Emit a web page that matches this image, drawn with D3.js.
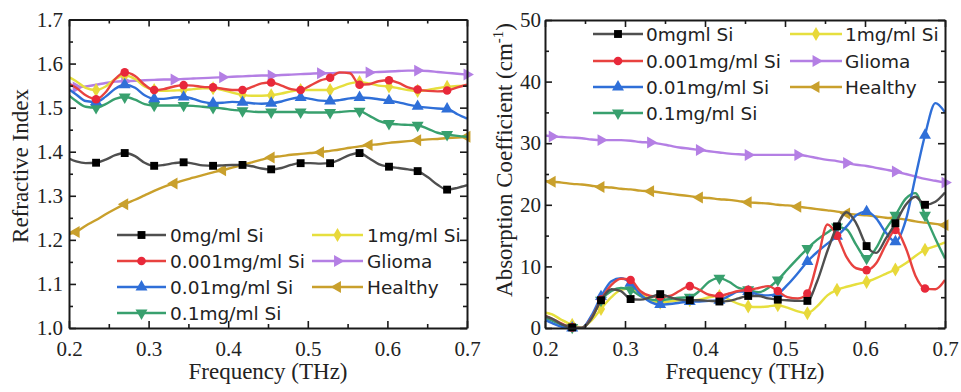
<!DOCTYPE html>
<html>
<head>
<meta charset="utf-8">
<script src="https://cdn.jsdelivr.net/npm/d3@7"></script>
<style>
body { margin:0; background:#fff; }
svg { display:block; }
</style>
</head>
<body>
<div id="chart"></div>
<script>
// frequency grid (THz), shared by every curve
var freq = [0.197,0.209,0.221,0.234,0.246,0.258,0.270,0.283,0.295,0.307,0.319,0.332,0.344,0.356,
            0.368,0.381,0.393,0.405,0.418,0.430,0.442,0.454,0.467,0.479,0.491,0.503,0.516,0.528,
            0.540,0.553,0.565,0.577,0.589,0.602,0.614,0.626,0.638,0.651,0.663,0.675,0.688,0.700];

var namesLeft  = ["0mg/ml Si","0.001mg/ml Si","0.01mg/ml Si","0.1mg/ml Si","1mg/ml Si","Glioma","Healthy"];
var namesRight = ["0mgml Si","0.001mg/ml Si","0.01mg/ml Si","0.1mg/ml Si","1mg/ml Si","Glioma","Healthy"];

// refractive index
var riBlack  = [1.387,1.378,1.374,1.375,1.382,1.392,1.397,1.390,1.375,1.368,1.370,1.374,1.376,1.373,1.369,1.368,1.369,1.370,1.370,1.367,1.362,1.360,1.363,1.370,1.374,1.374,1.373,1.374,1.382,1.393,1.397,1.385,1.372,1.366,1.363,1.360,1.356,1.342,1.325,1.314,1.318,1.324];
var riRed    = [1.556,1.545,1.528,1.519,1.535,1.565,1.580,1.572,1.552,1.540,1.542,1.548,1.551,1.550,1.547,1.546,1.543,1.540,1.540,1.547,1.555,1.557,1.550,1.542,1.540,1.550,1.562,1.568,1.580,1.578,1.552,1.553,1.560,1.562,1.556,1.546,1.541,1.538,1.537,1.539,1.546,1.552];
var riBlue   = [1.545,1.530,1.515,1.513,1.525,1.543,1.552,1.545,1.528,1.520,1.520,1.523,1.524,1.520,1.513,1.510,1.511,1.513,1.512,1.510,1.509,1.510,1.514,1.520,1.523,1.520,1.516,1.515,1.517,1.521,1.523,1.522,1.519,1.516,1.512,1.507,1.503,1.500,1.498,1.497,1.485,1.475];
var riGreen  = [1.532,1.515,1.502,1.500,1.508,1.520,1.524,1.518,1.508,1.505,1.505,1.505,1.505,1.504,1.502,1.500,1.498,1.495,1.493,1.491,1.490,1.490,1.490,1.490,1.490,1.489,1.489,1.489,1.490,1.492,1.492,1.482,1.470,1.464,1.462,1.461,1.460,1.452,1.443,1.439,1.436,1.434];
var riYellow = [1.572,1.560,1.545,1.540,1.548,1.565,1.573,1.565,1.548,1.540,1.538,1.539,1.540,1.542,1.544,1.544,1.540,1.534,1.529,1.527,1.527,1.528,1.532,1.537,1.540,1.540,1.540,1.540,1.547,1.555,1.558,1.555,1.550,1.548,1.544,1.540,1.538,1.540,1.544,1.547,1.549,1.550];
var riGlioma = [1.562,1.546,1.548,1.552,1.556,1.559,1.560,1.561,1.562,1.563,1.564,1.564,1.565,1.566,1.567,1.568,1.569,1.570,1.571,1.572,1.573,1.573,1.574,1.575,1.576,1.577,1.578,1.578,1.579,1.580,1.580,1.580,1.581,1.582,1.583,1.584,1.584,1.583,1.581,1.579,1.577,1.575];
var riHealthy= [1.212,1.218,1.232,1.245,1.258,1.270,1.281,1.291,1.301,1.311,1.320,1.328,1.335,1.341,1.347,1.353,1.358,1.364,1.370,1.376,1.382,1.387,1.390,1.393,1.395,1.397,1.399,1.402,1.405,1.409,1.412,1.415,1.417,1.420,1.422,1.424,1.426,1.428,1.429,1.431,1.432,1.434];

// absorption coefficient (cm-1)
var acBlack  = [2.0,1.5,0.6,0.1,0.0,1.5,4.5,6.3,6.0,4.7,4.6,5.0,5.5,5.0,4.6,4.5,4.5,4.4,4.3,4.4,4.8,5.2,5.2,4.8,4.6,4.5,4.4,4.4,7.5,12.5,16.5,18.8,17.0,13.3,12.2,14.5,17.0,20.0,21.3,20.0,20.5,22.0];
var acRed    = [2.2,1.5,0.7,0.1,0.0,1.6,4.6,7.0,8.0,7.8,6.0,5.2,5.1,5.2,6.0,6.8,6.2,5.4,5.2,5.6,6.0,6.2,6.5,6.8,6.0,5.0,4.8,5.6,10.5,16.8,15.0,11.5,9.7,9.4,10.5,13.5,15.9,13.0,8.5,6.4,6.3,7.8];
var acBlue   = [1.5,0.8,0.2,0.0,0.0,2.0,5.1,7.6,8.1,7.3,5.5,4.2,3.8,3.9,4.1,4.3,4.3,4.4,4.5,5.2,5.9,5.9,5.4,5.3,5.6,7.0,8.9,10.8,12.3,13.7,14.9,16.5,18.3,18.9,17.8,15.5,14.0,17.5,24.5,31.3,36.5,35.0];
var acGreen  = [1.8,1.2,0.5,0.1,0.0,1.8,4.5,6.0,6.5,6.2,5.2,4.6,4.5,4.7,4.9,5.0,6.0,7.5,8.1,7.5,6.5,6.2,5.8,6.5,7.8,9.5,11.3,12.9,14.3,15.5,16.4,16.0,13.5,11.3,13.0,16.0,18.3,21.0,21.9,18.3,14.5,11.3];
var acYellow = [2.6,2.2,1.3,0.5,0.1,1.2,3.1,5.0,6.2,6.4,5.6,4.6,4.1,4.3,4.5,4.5,4.6,5.0,5.2,4.6,3.9,3.5,3.4,3.5,3.7,3.3,2.7,2.4,3.5,5.3,6.2,6.7,7.1,7.5,8.1,8.8,9.5,10.5,11.7,12.7,13.3,13.9];
var acGlioma = [31.3,31.1,31.0,30.9,30.8,30.6,30.5,30.5,30.5,30.4,30.2,30.1,29.9,29.6,29.3,29.1,28.9,28.7,28.5,28.3,28.2,28.1,28.1,28.1,28.1,28.1,28.1,27.9,27.6,27.3,27.1,26.8,26.5,26.3,26.0,25.7,25.4,25.0,24.6,24.2,23.9,23.6];
var acHealthy= [23.9,23.75,23.6,23.4,23.3,23.1,22.9,22.8,22.6,22.5,22.3,22.2,22.0,21.8,21.6,21.4,21.2,21.1,20.9,20.8,20.6,20.4,20.3,20.2,20.0,19.9,19.7,19.5,19.3,19.1,18.9,18.6,18.4,18.3,18.1,17.9,17.8,17.6,17.3,17.1,16.9,16.7];

var xTicks = [0.2,0.3,0.4,0.5,0.6,0.7];
var xMinor = [0.25,0.35,0.45,0.55,0.65];
var riTicks = [1.0,1.1,1.2,1.3,1.4,1.5,1.6,1.7];
var riMinor = [1.05,1.15,1.25,1.35,1.45,1.55,1.65];
var acTicks = [0,10,20,30,40,50];
var acMinor = [5,15,25,35,45];

// line colour, marker fill, symbol, rotation, marker spacing on the grid
var styles = [
    {line:"#4f4f4f", mark:"#000000", sym:d3.symbolSquare,   rot:0,   size:62, step:3, start:0},
    {line:"#e8423f", mark:"#e8283a", sym:d3.symbolCircle,   rot:0,   size:58, step:3, start:0},
    {line:"#2f6fd8", mark:"#2f6fd8", sym:d3.symbolTriangle, rot:0,   size:62, step:3, start:0},
    {line:"#38a06e", mark:"#38a06e", sym:d3.symbolTriangle, rot:180, size:62, step:3, start:0},
    {line:"#e6df3e", mark:"#e8d83a", sym:d3.symbolDiamond,  rot:0,   size:58, step:3, start:0},
    {line:"#b47fe4", mark:"#b47fe4", sym:d3.symbolTriangle, rot:90,  size:62, step:5, start:1},
    {line:"#c9a02c", mark:"#c9a02c", sym:d3.symbolTriangle, rot:-90, size:62, step:5, start:1}
];
var drawOrder = [6,5,4,3,2,1,0];

var svg = d3.select("#chart").append("svg")
    .attr("width",961)
    .attr("height",392);

var serif = "'Liberation Serif','Times New Roman',serif";
var sans = "'DejaVu Sans',sans-serif";

function drawPanel(p) {
    var x = d3.scaleLinear().domain([0.2,0.7]).range([p.left,p.right]);
    var y = d3.scaleLinear().domain(p.yDomain).range([p.bottom,p.top]);
    var g = svg.append("g");

    svg.append("clipPath").attr("id","clip"+p.id)
        .append("rect")
        .attr("x",p.left).attr("y",p.top)
        .attr("width",p.right-p.left).attr("height",p.bottom-p.top);

    var line = d3.line()
        .x(function(d,i){return x(freq[i]);})
        .y(function(d){return y(d);})
        .curve(d3.curveMonotoneX);

    drawOrder.forEach(function(k){
        var s = styles[k];
        g.append("path")
            .datum(p.series[k])
            .attr("clip-path","url(#clip"+p.id+")")
            .attr("d",line)
            .attr("fill","none")
            .attr("stroke",s.line)
            .attr("stroke-width",2.4)
            .attr("stroke-linejoin","round");

        var pts = p.series[k].map(function(v,i){return {f:freq[i],v:v,i:i};})
            .filter(function(d){return d.i%s.step===s.start && d.f>=0.2 && d.f<=0.7;});
        g.selectAll(null).data(pts).enter().append("path")
            .attr("d",d3.symbol().type(s.sym).size(s.size))
            .attr("transform",function(d){return "translate("+x(d.f)+","+y(d.v)+") rotate("+s.rot+")";})
            .attr("fill",s.mark);
    });

    // axes, ticks pointing inward on all four sides
    function styleAxis(sel){
        sel.select(".domain").attr("stroke","#1a1a1a").attr("stroke-width",2);
        sel.selectAll(".tick line").attr("stroke","#1a1a1a").attr("stroke-width",1.6);
        sel.selectAll("text").attr("font-family",serif).attr("font-size","21px").attr("fill","#222");
    }
    var bottom = g.append("g").attr("transform","translate(0,"+p.bottom+")")
        .call(d3.axisBottom(x).tickValues(xTicks).tickFormat(d3.format(".1f")).tickSize(-7).tickSizeOuter(0).tickPadding(13));
    styleAxis(bottom);
    g.append("g").attr("transform","translate(0,"+p.bottom+")")
        .call(d3.axisBottom(x).tickValues(xMinor).tickFormat("").tickSize(-4)).call(styleAxis)
        .select(".domain").remove();

    var top = g.append("g").attr("transform","translate(0,"+p.top+")")
        .call(d3.axisTop(x).tickValues(xTicks).tickFormat("").tickSize(-7).tickSizeOuter(0));
    styleAxis(top);
    g.append("g").attr("transform","translate(0,"+p.top+")")
        .call(d3.axisTop(x).tickValues(xMinor).tickFormat("").tickSize(-4)).call(styleAxis)
        .select(".domain").remove();

    var left = g.append("g").attr("transform","translate("+p.left+",0)")
        .call(d3.axisLeft(y).tickValues(p.yTicks).tickFormat(d3.format(p.yFormat)).tickSize(-7).tickSizeOuter(0).tickPadding(p.yPad));
    styleAxis(left);
    g.append("g").attr("transform","translate("+p.left+",0)")
        .call(d3.axisLeft(y).tickValues(p.yMinor).tickFormat("").tickSize(-4)).call(styleAxis)
        .select(".domain").remove();

    var right = g.append("g").attr("transform","translate("+p.right+",0)")
        .call(d3.axisRight(y).tickValues(p.yTicks).tickFormat("").tickSize(-7).tickSizeOuter(0));
    styleAxis(right);
    g.append("g").attr("transform","translate("+p.right+",0)")
        .call(d3.axisRight(y).tickValues(p.yMinor).tickFormat("").tickSize(-4)).call(styleAxis)
        .select(".domain").remove();

    // axis titles
    g.append("text")
        .attr("x",(p.left+p.right)/2).attr("y",379)
        .attr("text-anchor","middle")
        .attr("font-family",serif).attr("font-size","23px").attr("fill","#222")
        .text("Frequency (THz)");

    var yt = g.append("text")
        .attr("transform","translate("+p.yTitleX+","+p.yTitleY+") rotate(-90)")
        .attr("text-anchor","middle")
        .attr("font-family",serif).attr("font-size","23px").attr("fill","#222");
    yt.append("tspan").text(p.yTitle);
    if (p.yTitleSup) {
        yt.append("tspan").attr("font-size","15px").attr("dy","-0.6em").text(p.yTitleSup);
        yt.append("tspan").attr("dy","0.4em").text(")");
    }

    // legend
    p.legend.forEach(function(col){
        col.rows.forEach(function(ry,j){
            var k = col.keys[j];
            var s = styles[k];
            var lg = g.append("g");
            lg.append("line")
                .attr("x1",col.x0).attr("x2",col.x1)
                .attr("y1",ry).attr("y2",ry)
                .attr("stroke",s.line).attr("stroke-width",2.6);
            lg.append("path")
                .attr("d",d3.symbol().type(s.sym).size(s.size))
                .attr("transform","translate("+((col.x0+col.x1)/2)+","+ry+") rotate("+s.rot+")")
                .attr("fill",s.mark);
            lg.append("text")
                .attr("x",col.tx).attr("y",ry).attr("dy","0.36em")
                .attr("font-family",sans).attr("font-size","18.5px").attr("fill","#222")
                .text(p.names[k]);
        });
    });
}

drawPanel({
    id:"L", left:69, right:467, top:19.5, bottom:328,
    yDomain:[1.0,1.7], yTicks:riTicks, yMinor:riMinor, yFormat:".1f", yPad:6,
    series:[riBlack,riRed,riBlue,riGreen,riYellow,riGlioma,riHealthy],
    names:namesLeft,
    yTitle:"Refractive Index", yTitleX:28, yTitleY:166,
    legend:[
        {x0:117, x1:166, tx:170, rows:[235,261,287,313], keys:[0,1,2,3]},
        {x0:312, x1:363, tx:367, rows:[235,261,287], keys:[4,5,6]}
    ]
});

drawPanel({
    id:"R", left:545, right:945, top:20, bottom:328,
    yDomain:[0,50], yTicks:acTicks, yMinor:acMinor, yFormat:"d", yPad:4,
    series:[acBlack,acRed,acBlue,acGreen,acYellow,acGlioma,acHealthy],
    names:namesRight,
    yTitle:"Absorption Coefficient (cm", yTitleSup:"-1", yTitleX:512, yTitleY:160,
    legend:[
        {x0:593, x1:643, tx:646, rows:[34,61,87,113], keys:[0,1,2,3]},
        {x0:790, x1:842, tx:845, rows:[34,61,87], keys:[4,5,6]}
    ]
});
</script>
</body>
</html>
